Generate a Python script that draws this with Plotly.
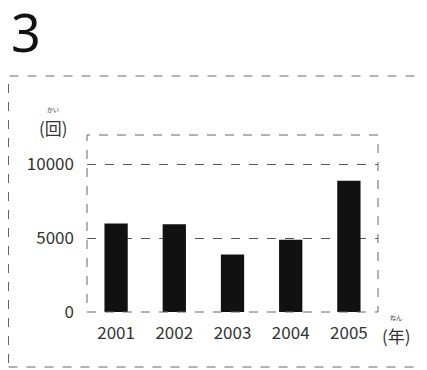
import plotly.graph_objects as go

years = ["2001", "2002", "2003", "2004", "2005"]
counts = [6000, 5950, 3900, 4900, 8900]
y_ticks = [0, 5000, 10000]
y_labels = ["0", "5000", "10000"]

FONT = "Noto Sans CJK JP"
OFF = 8  # default page body margin
W, H = 427 - OFF, 370 - OFF
L, R, T, B = 87 - OFF, 49, 135 - OFF, 58

fig = go.Figure(go.Bar(x=years, y=counts, marker=dict(color="#111111", line=dict(width=0)),
                       width=0.4))

fig.update_layout(
    width=W, height=H,
    margin=dict(l=L, r=R, t=T, b=B),
    paper_bgcolor="white", plot_bgcolor="white",
    showlegend=False,
    font=dict(family=FONT, size=17, color="#333333"),
    xaxis=dict(showgrid=False, zeroline=False, showline=False, ticks="",
               tickfont=dict(size=17, color="#333333"), ticklabelstandoff=9),
    yaxis=dict(range=[0, 12000], tickvals=y_ticks, ticktext=y_labels,
               showgrid=True, gridcolor="#555555", griddash="dash", gridwidth=1,
               zeroline=False, showline=False, ticks="",
               tickfont=dict(size=17, color="#333333"), ticklabelstandoff=12),
)

def px(x):
    return (x - OFF - L) / (W - L - R)

def py(y):
    return (H - B - (y - OFF)) / (H - T - B)

# plot-area dashed frame
fig.add_shape(type="rect", xref="paper", yref="paper", x0=0, x1=1, y0=0, y1=1,
              line=dict(color="#666666", width=1, dash="dash"), layer="above")
# outer dashed box
fig.add_shape(type="rect", xref="paper", yref="paper",
              x0=px(8.5), x1=px(426), y0=py(367), y1=py(76),
              line=dict(color="#666666", width=1, dash="dash"))

fig.add_annotation(text="3", xref="paper", yref="paper", x=px(9), y=py(32),
                   xanchor="left", yanchor="middle", showarrow=False,
                   font=dict(family="Noto Sans", size=52, color="#111111"))
fig.add_annotation(text="(回)", xref="paper", yref="paper", x=px(53), y=py(127),
                   xanchor="center", yanchor="middle", showarrow=False,
                   font=dict(size=17, color="#333333"))
fig.add_annotation(text="かい", xref="paper", yref="paper", x=px(53), y=py(109),
                   xanchor="center", yanchor="middle", showarrow=False,
                   font=dict(size=6, color="#333333"))
fig.add_annotation(text="(年)", xref="paper", yref="paper", x=px(396), y=py(335),
                   xanchor="center", yanchor="middle", showarrow=False,
                   font=dict(size=17, color="#333333"))
fig.add_annotation(text="ねん", xref="paper", yref="paper", x=px(396), y=py(317),
                   xanchor="center", yanchor="middle", showarrow=False,
                   font=dict(size=6, color="#333333"))

fig.write_html("out.html")
